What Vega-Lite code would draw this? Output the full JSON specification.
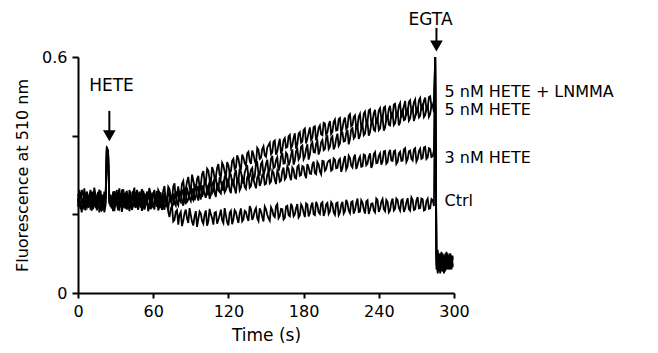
{
  "$schema": "https://vega.github.io/schema/vega-lite/v6.json",
  "autosize": {"type": "none"},
  "padding": {"left": 78, "top": 57, "right": 204, "bottom": 60},
  "width": 376,
  "height": 236,
  "background": "white",
  "config": {
    "view": {"stroke": null},
    "font": "DejaVu Sans",
    "axis": {
      "grid": false,
      "domainColor": "black",
      "domainWidth": 2,
      "tickColor": "black",
      "tickWidth": 2,
      "labelColor": "black",
      "titleColor": "black",
      "titleFontWeight": "normal",
      "labelFont": "DejaVu Sans",
      "titleFont": "DejaVu Sans"
    }
  },
  "layer": [
    {
      "data": {
        "values": [
          {"t":0,"a":0.242,"b":0.220,"c":0.252,"d":0.230},
          {"t":2,"a":0.214,"b":0.247,"c":0.222,"d":0.256},
          {"t":4,"a":0.254,"b":0.230,"c":0.238,"d":0.218},
          {"t":6,"a":0.224,"b":0.255,"c":0.210,"d":0.243},
          {"t":8,"a":0.247,"b":0.217,"c":0.246,"d":0.226},
          {"t":10,"a":0.212,"b":0.243,"c":0.226,"d":0.262},
          {"t":12,"a":0.237,"b":0.213,"c":0.257,"d":0.234},
          {"t":14,"a":0.220,"b":0.251,"c":0.217,"d":0.248},
          {"t":16,"a":0.257,"b":0.227,"c":0.235,"d":0.220},
          {"t":18,"a":0.216,"b":0.260,"c":0.212,"d":0.253},
          {"t":20,"a":0.240,"b":0.223,"c":0.250,"d":0.213},
          {"t":22,"a":0.228,"b":0.239,"c":0.224,"d":0.246},
          {"t":23,"a":0.370,"b":0.368,"c":0.372,"d":0.365},
          {"t":24,"a":0.360,"b":0.362,"c":0.355,"d":0.358},
          {"t":25,"a":0.230,"b":0.238,"c":0.226,"d":0.244},
          {"t":26,"a":0.250,"b":0.219,"c":0.242,"d":0.224},
          {"t":28,"a":0.218,"b":0.253,"c":0.208,"d":0.258},
          {"t":30,"a":0.238,"b":0.231,"c":0.248,"d":0.232},
          {"t":32,"a":0.210,"b":0.257,"c":0.220,"d":0.250},
          {"t":34,"a":0.244,"b":0.221,"c":0.254,"d":0.218},
          {"t":36,"a":0.226,"b":0.245,"c":0.228,"d":0.264},
          {"t":38,"a":0.252,"b":0.215,"c":0.240,"d":0.228},
          {"t":40,"a":0.214,"b":0.241,"c":0.214,"d":0.242},
          {"t":42,"a":0.246,"b":0.225,"c":0.258,"d":0.222},
          {"t":44,"a":0.222,"b":0.259,"c":0.224,"d":0.254},
          {"t":46,"a":0.256,"b":0.229,"c":0.244,"d":0.216},
          {"t":48,"a":0.212,"b":0.249,"c":0.212,"d":0.246},
          {"t":50,"a":0.236,"b":0.217,"c":0.250,"d":0.232},
          {"t":52,"a":0.218,"b":0.255,"c":0.218,"d":0.260},
          {"t":54,"a":0.248,"b":0.223,"c":0.238,"d":0.224},
          {"t":56,"a":0.226,"b":0.243,"c":0.208,"d":0.250},
          {"t":58,"a":0.254,"b":0.213,"c":0.252,"d":0.220},
          {"t":60,"a":0.216,"b":0.251,"c":0.226,"d":0.256},
          {"t":62,"a":0.242,"b":0.231,"c":0.246,"d":0.230},
          {"t":64,"a":0.210,"b":0.259,"c":0.216,"d":0.262},
          {"t":66,"a":0.240,"b":0.221,"c":0.256,"d":0.231},
          {"t":68,"a":0.220,"b":0.245,"c":0.222,"d":0.260},
          {"t":70,"a":0.239,"b":0.219,"c":0.240,"d":0.231},
          {"t":72,"a":0.207,"b":0.256,"c":0.214,"d":0.270},
          {"t":74,"a":0.215,"b":0.230,"c":0.248,"d":0.245},
          {"t":76,"a":0.182,"b":0.253,"c":0.226,"d":0.270},
          {"t":78,"a":0.207,"b":0.222,"c":0.256,"d":0.240},
          {"t":80,"a":0.174,"b":0.250,"c":0.223,"d":0.271},
          {"t":82,"a":0.206,"b":0.231,"c":0.251,"d":0.250},
          {"t":84,"a":0.184,"b":0.262,"c":0.222,"d":0.285},
          {"t":86,"a":0.212,"b":0.226,"c":0.250,"d":0.264},
          {"t":88,"a":0.178,"b":0.253,"c":0.239,"d":0.295},
          {"t":90,"a":0.198,"b":0.234,"c":0.269,"d":0.260},
          {"t":92,"a":0.172,"b":0.266,"c":0.236,"d":0.286},
          {"t":94,"a":0.208,"b":0.245,"c":0.264,"d":0.261},
          {"t":96,"a":0.188,"b":0.272,"c":0.235,"d":0.298},
          {"t":98,"a":0.202,"b":0.238,"c":0.275,"d":0.277},
          {"t":100,"a":0.176,"b":0.265,"c":0.256,"d":0.310},
          {"t":102,"a":0.210,"b":0.242,"c":0.278,"d":0.281},
          {"t":104,"a":0.182,"b":0.274,"c":0.248,"d":0.311},
          {"t":106,"a":0.200,"b":0.251,"c":0.277,"d":0.280},
          {"t":108,"a":0.174,"b":0.283,"c":0.261,"d":0.311},
          {"t":110,"a":0.206,"b":0.244,"c":0.293,"d":0.296},
          {"t":112,"a":0.186,"b":0.271,"c":0.261,"d":0.328},
          {"t":114,"a":0.212,"b":0.253,"c":0.284,"d":0.295},
          {"t":116,"a":0.178,"b":0.284,"c":0.260,"d":0.324},
          {"t":118,"a":0.198,"b":0.262,"c":0.300,"d":0.294},
          {"t":120,"a":0.172,"b":0.283,"c":0.276,"d":0.325},
          {"t":122,"a":0.209,"b":0.254,"c":0.301,"d":0.310},
          {"t":124,"a":0.187,"b":0.282,"c":0.273,"d":0.341},
          {"t":126,"a":0.206,"b":0.253,"c":0.313,"d":0.319},
          {"t":128,"a":0.178,"b":0.293,"c":0.287,"d":0.342},
          {"t":130,"a":0.215,"b":0.268,"c":0.308,"d":0.313},
          {"t":132,"a":0.187,"b":0.289,"c":0.278,"d":0.344},
          {"t":134,"a":0.206,"b":0.265,"c":0.316,"d":0.324},
          {"t":136,"a":0.183,"b":0.300,"c":0.292,"d":0.359},
          {"t":138,"a":0.213,"b":0.272,"c":0.313,"d":0.328},
          {"t":140,"a":0.194,"b":0.289,"c":0.289,"d":0.352},
          {"t":142,"a":0.216,"b":0.266,"c":0.329,"d":0.327},
          {"t":144,"a":0.183,"b":0.302,"c":0.303,"d":0.364},
          {"t":146,"a":0.207,"b":0.281,"c":0.328,"d":0.344},
          {"t":148,"a":0.182,"b":0.303,"c":0.300,"d":0.373},
          {"t":150,"a":0.213,"b":0.278,"c":0.328,"d":0.346},
          {"t":152,"a":0.190,"b":0.309,"c":0.306,"d":0.376},
          {"t":154,"a":0.218,"b":0.283,"c":0.341,"d":0.353},
          {"t":156,"a":0.197,"b":0.306,"c":0.317,"d":0.385},
          {"t":158,"a":0.221,"b":0.277,"c":0.338,"d":0.352},
          {"t":160,"a":0.190,"b":0.304,"c":0.310,"d":0.378},
          {"t":162,"a":0.214,"b":0.286,"c":0.348,"d":0.354},
          {"t":164,"a":0.187,"b":0.319,"c":0.329,"d":0.389},
          {"t":166,"a":0.220,"b":0.294,"c":0.357,"d":0.369},
          {"t":168,"a":0.198,"b":0.316,"c":0.324,"d":0.398},
          {"t":170,"a":0.227,"b":0.287,"c":0.350,"d":0.368},
          {"t":172,"a":0.195,"b":0.314,"c":0.326,"d":0.394},
          {"t":174,"a":0.216,"b":0.291,"c":0.361,"d":0.367},
          {"t":176,"a":0.192,"b":0.325,"c":0.339,"d":0.405},
          {"t":178,"a":0.225,"b":0.300,"c":0.372,"d":0.382},
          {"t":180,"a":0.204,"b":0.321,"c":0.340,"d":0.414},
          {"t":182,"a":0.228,"b":0.292,"c":0.366,"d":0.380},
          {"t":184,"a":0.195,"b":0.320,"c":0.339,"d":0.407},
          {"t":186,"a":0.221,"b":0.303,"c":0.377,"d":0.389},
          {"t":188,"a":0.200,"b":0.334,"c":0.358,"d":0.422},
          {"t":190,"a":0.232,"b":0.302,"c":0.380,"d":0.388},
          {"t":192,"a":0.205,"b":0.327,"c":0.352,"d":0.420},
          {"t":194,"a":0.228,"b":0.302,"c":0.383,"d":0.403},
          {"t":196,"a":0.196,"b":0.335,"c":0.363,"d":0.433},
          {"t":198,"a":0.225,"b":0.315,"c":0.394,"d":0.402},
          {"t":200,"a":0.201,"b":0.336,"c":0.366,"d":0.428},
          {"t":202,"a":0.231,"b":0.311,"c":0.394,"d":0.404},
          {"t":204,"a":0.205,"b":0.342,"c":0.365,"d":0.435},
          {"t":206,"a":0.228,"b":0.317,"c":0.393,"d":0.413},
          {"t":208,"a":0.198,"b":0.337,"c":0.374,"d":0.442},
          {"t":210,"a":0.224,"b":0.308,"c":0.410,"d":0.408},
          {"t":212,"a":0.202,"b":0.337,"c":0.385,"d":0.438},
          {"t":214,"a":0.237,"b":0.314,"c":0.407,"d":0.417},
          {"t":216,"a":0.209,"b":0.349,"c":0.378,"d":0.451},
          {"t":218,"a":0.231,"b":0.324,"c":0.416,"d":0.424},
          {"t":220,"a":0.202,"b":0.344,"c":0.393,"d":0.448},
          {"t":222,"a":0.228,"b":0.315,"c":0.423,"d":0.420},
          {"t":224,"a":0.206,"b":0.340,"c":0.392,"d":0.449},
          {"t":226,"a":0.236,"b":0.321,"c":0.418,"d":0.419},
          {"t":228,"a":0.213,"b":0.352,"c":0.401,"d":0.456},
          {"t":230,"a":0.233,"b":0.325,"c":0.429,"d":0.432},
          {"t":232,"a":0.201,"b":0.347,"c":0.400,"d":0.464},
          {"t":234,"a":0.227,"b":0.318,"c":0.430,"d":0.431},
          {"t":236,"a":0.210,"b":0.353,"c":0.415,"d":0.457},
          {"t":238,"a":0.240,"b":0.330,"c":0.441,"d":0.430},
          {"t":240,"a":0.206,"b":0.349,"c":0.414,"d":0.464},
          {"t":242,"a":0.232,"b":0.326,"c":0.442,"d":0.444},
          {"t":244,"a":0.213,"b":0.360,"c":0.413,"d":0.471},
          {"t":246,"a":0.237,"b":0.329,"c":0.443,"d":0.439},
          {"t":248,"a":0.205,"b":0.356,"c":0.428,"d":0.468},
          {"t":250,"a":0.231,"b":0.337,"c":0.458,"d":0.446},
          {"t":252,"a":0.210,"b":0.360,"c":0.427,"d":0.479},
          {"t":254,"a":0.240,"b":0.328,"c":0.453,"d":0.451},
          {"t":256,"a":0.216,"b":0.355,"c":0.426,"d":0.476},
          {"t":258,"a":0.236,"b":0.336,"c":0.460,"d":0.446},
          {"t":260,"a":0.206,"b":0.365,"c":0.439,"d":0.475},
          {"t":262,"a":0.230,"b":0.333,"c":0.465,"d":0.453},
          {"t":264,"a":0.213,"b":0.360,"c":0.438,"d":0.486},
          {"t":266,"a":0.243,"b":0.341,"c":0.464,"d":0.462},
          {"t":268,"a":0.211,"b":0.365,"c":0.437,"d":0.485},
          {"t":270,"a":0.235,"b":0.334,"c":0.465,"d":0.457},
          {"t":272,"a":0.215,"b":0.361,"c":0.446,"d":0.490},
          {"t":274,"a":0.240,"b":0.341,"c":0.474,"d":0.466},
          {"t":276,"a":0.210,"b":0.370,"c":0.447,"d":0.489},
          {"t":278,"a":0.234,"b":0.341,"c":0.469,"d":0.465},
          {"t":280,"a":0.214,"b":0.368,"c":0.448,"d":0.498},
          {"t":282,"a":0.239,"b":0.346,"c":0.476,"d":0.474},
          {"t":284,"a":0.221,"b":0.363,"c":0.459,"d":0.489},
          {"t":285,"a":0.6,"b":0.6,"c":0.6,"d":0.6},
          {"t":286,"a":0.09,"b":0.06,"c":0.1,"d":0.07},
          {"t":287,"a":0.05,"b":0.11,"c":0.06,"d":0.1},
          {"t":288,"a":0.1,"b":0.055,"c":0.09,"d":0.06},
          {"t":289,"a":0.06,"b":0.1,"c":0.05,"d":0.095},
          {"t":290,"a":0.105,"b":0.07,"c":0.1,"d":0.055},
          {"t":291,"a":0.055,"b":0.095,"c":0.06,"d":0.1},
          {"t":292,"a":0.09,"b":0.05,"c":0.095,"d":0.065},
          {"t":293,"a":0.06,"b":0.1,"c":0.055,"d":0.09},
          {"t":294,"a":0.1,"b":0.065,"c":0.105,"d":0.06},
          {"t":295,"a":0.06,"b":0.1,"c":0.065,"d":0.095},
          {"t":296,"a":0.095,"b":0.06,"c":0.09,"d":0.07},
          {"t":297,"a":0.065,"b":0.1,"c":0.06,"d":0.1},
          {"t":298,"a":0.09,"b":0.07,"c":0.095,"d":0.06},
          {"t":299,"a":0.07,"b":0.095,"c":0.065,"d":0.09},
          {"t":1,"a":0.229,"b":0.262,"c":0.236,"d":0.245},
          {"t":3,"a":0.262,"b":0.238,"c":0.205,"d":0.236},
          {"t":5,"a":0.236,"b":0.212,"c":0.241,"d":0.266},
          {"t":7,"a":0.218,"b":0.240,"c":0.258,"d":0.222},
          {"t":9,"a":0.233,"b":0.226,"c":0.229,"d":0.247},
          {"t":11,"a":0.258,"b":0.249,"c":0.209,"d":0.226},
          {"t":13,"a":0.225,"b":0.232,"c":0.244,"d":0.268},
          {"t":15,"a":0.241,"b":0.210,"c":0.225,"d":0.236},
          {"t":17,"a":0.205,"b":0.246,"c":0.263,"d":0.241},
          {"t":19,"a":0.236,"b":0.222,"c":0.231,"d":0.210},
          {"t":21,"a":0.252,"b":0.248,"c":0.205,"d":0.258},
          {"t":27,"a":0.228,"b":0.241,"c":0.236,"d":0.215},
          {"t":29,"a":0.259,"b":0.208,"c":0.226,"d":0.247},
          {"t":31,"a":0.225,"b":0.244,"c":0.262,"d":0.238},
          {"t":33,"a":0.237,"b":0.230,"c":0.214,"d":0.266},
          {"t":35,"a":0.206,"b":0.263,"c":0.239,"d":0.230},
          {"t":37,"a":0.245,"b":0.228,"c":0.216,"d":0.249},
          {"t":39,"a":0.230,"b":0.250,"c":0.260,"d":0.212},
          {"t":41,"a":0.262,"b":0.208,"c":0.232,"d":0.251},
          {"t":43,"a":0.220,"b":0.240,"c":0.211,"d":0.235},
          {"t":45,"a":0.239,"b":0.223,"c":0.249,"d":0.268},
          {"t":47,"a":0.231,"b":0.262,"c":0.228,"d":0.226},
          {"t":49,"a":0.258,"b":0.232,"c":0.236,"d":0.240},
          {"t":51,"a":0.209,"b":0.246,"c":0.264,"d":0.217},
          {"t":53,"a":0.241,"b":0.212,"c":0.226,"d":0.248},
          {"t":55,"a":0.229,"b":0.258,"c":0.245,"d":0.235},
          {"t":57,"a":0.214,"b":0.237,"c":0.222,"d":0.267},
          {"t":59,"a":0.247,"b":0.226,"c":0.238,"d":0.232},
          {"t":61,"a":0.226,"b":0.262,"c":0.212,"d":0.246},
          {"t":63,"a":0.259,"b":0.219,"c":0.247,"d":0.224},
          {"t":65,"a":0.219,"b":0.248,"c":0.240,"d":0.255},
          {"t":67,"a":0.245,"b":0.227,"c":0.211,"d":0.236},
          {"t":69,"a":0.212,"b":0.253,"c":0.247,"d":0.272},
          {"t":71,"a":0.229,"b":0.230,"c":0.221,"d":0.239},
          {"t":73,"a":0.193,"b":0.249,"c":0.240,"d":0.264},
          {"t":75,"a":0.221,"b":0.241,"c":0.218,"d":0.238},
          {"t":77,"a":0.186,"b":0.228,"c":0.245,"d":0.279},
          {"t":79,"a":0.211,"b":0.258,"c":0.229,"d":0.252},
          {"t":81,"a":0.199,"b":0.236,"c":0.260,"d":0.246},
          {"t":83,"a":0.170,"b":0.257,"c":0.234,"d":0.278},
          {"t":85,"a":0.203,"b":0.233,"c":0.266,"d":0.255},
          {"t":87,"a":0.189,"b":0.268,"c":0.230,"d":0.283},
          {"t":89,"a":0.216,"b":0.241,"c":0.252,"d":0.268},
          {"t":91,"a":0.181,"b":0.257,"c":0.241,"d":0.301},
          {"t":93,"a":0.195,"b":0.236,"c":0.277,"d":0.270},
          {"t":95,"a":0.168,"b":0.262,"c":0.248,"d":0.290},
          {"t":97,"a":0.207,"b":0.247,"c":0.266,"d":0.267},
          {"t":99,"a":0.183,"b":0.273,"c":0.244,"d":0.302},
          {"t":101,"a":0.200,"b":0.251,"c":0.287,"d":0.284},
          {"t":103,"a":0.171,"b":0.268,"c":0.257,"d":0.316},
          {"t":105,"a":0.214,"b":0.239,"c":0.283,"d":0.289},
          {"t":107,"a":0.190,"b":0.277,"c":0.254,"d":0.320},
          {"t":109,"a":0.204,"b":0.255,"c":0.290,"d":0.291},
          {"t":111,"a":0.176,"b":0.281,"c":0.265,"d":0.318},
          {"t":113,"a":0.198,"b":0.258,"c":0.295,"d":0.300},
          {"t":115,"a":0.185,"b":0.279,"c":0.268,"d":0.331},
          {"t":117,"a":0.216,"b":0.256,"c":0.296,"d":0.308},
          {"t":119,"a":0.180,"b":0.288,"c":0.270,"d":0.333},
          {"t":121,"a":0.204,"b":0.262,"c":0.306,"d":0.305},
          {"t":123,"a":0.175,"b":0.290,"c":0.279,"d":0.336},
          {"t":125,"a":0.211,"b":0.266,"c":0.302,"d":0.315},
          {"t":127,"a":0.190,"b":0.287,"c":0.281,"d":0.350},
          {"t":129,"a":0.203,"b":0.261,"c":0.316,"d":0.322},
          {"t":131,"a":0.182,"b":0.296,"c":0.290,"d":0.352},
          {"t":133,"a":0.209,"b":0.270,"c":0.306,"d":0.330},
          {"t":135,"a":0.192,"b":0.294,"c":0.325,"d":0.355},
          {"t":137,"a":0.221,"b":0.268,"c":0.296,"d":0.336},
          {"t":139,"a":0.186,"b":0.297,"c":0.318,"d":0.362},
          {"t":141,"a":0.209,"b":0.277,"c":0.296,"d":0.336},
          {"t":143,"a":0.190,"b":0.293,"c":0.332,"d":0.369},
          {"t":145,"a":0.215,"b":0.272,"c":0.301,"d":0.341},
          {"t":147,"a":0.194,"b":0.300,"c":0.334,"d":0.366},
          {"t":149,"a":0.220,"b":0.276,"c":0.311,"d":0.350},
          {"t":151,"a":0.199,"b":0.301,"c":0.339,"d":0.370},
          {"t":153,"a":0.184,"b":0.279,"c":0.313,"d":0.382},
          {"t":155,"a":0.211,"b":0.311,"c":0.349,"d":0.357},
          {"t":157,"a":0.193,"b":0.288,"c":0.320,"d":0.388},
          {"t":159,"a":0.226,"b":0.310,"c":0.345,"d":0.360},
          {"t":161,"a":0.196,"b":0.283,"c":0.322,"d":0.392},
          {"t":163,"a":0.213,"b":0.310,"c":0.356,"d":0.364},
          {"t":165,"a":0.191,"b":0.289,"c":0.330,"d":0.394},
          {"t":167,"a":0.222,"b":0.322,"c":0.352,"d":0.371},
          {"t":169,"a":0.195,"b":0.296,"c":0.333,"d":0.402},
          {"t":171,"a":0.219,"b":0.319,"c":0.365,"d":0.375},
          {"t":173,"a":0.200,"b":0.293,"c":0.336,"d":0.406},
          {"t":175,"a":0.226,"b":0.321,"c":0.366,"d":0.378},
          {"t":177,"a":0.197,"b":0.298,"c":0.345,"d":0.409},
          {"t":179,"a":0.219,"b":0.323,"c":0.375,"d":0.385},
          {"t":181,"a":0.193,"b":0.301,"c":0.347,"d":0.418},
          {"t":183,"a":0.225,"b":0.328,"c":0.378,"d":0.392},
          {"t":185,"a":0.203,"b":0.304,"c":0.352,"d":0.421},
          {"t":187,"a":0.230,"b":0.326,"c":0.383,"d":0.395},
          {"t":189,"a":0.198,"b":0.305,"c":0.357,"d":0.424},
          {"t":191,"a":0.224,"b":0.333,"c":0.386,"d":0.399},
          {"t":193,"a":0.201,"b":0.309,"c":0.362,"d":0.426},
          {"t":195,"a":0.231,"b":0.336,"c":0.389,"d":0.401},
          {"t":197,"a":0.206,"b":0.311,"c":0.366,"d":0.431},
          {"t":199,"a":0.229,"b":0.331,"c":0.398,"d":0.408},
          {"t":201,"a":0.207,"b":0.338,"c":0.372,"d":0.437},
          {"t":203,"a":0.226,"b":0.314,"c":0.398,"d":0.410},
          {"t":205,"a":0.199,"b":0.339,"c":0.373,"d":0.441},
          {"t":207,"a":0.230,"b":0.318,"c":0.405,"d":0.414},
          {"t":209,"a":0.205,"b":0.341,"c":0.380,"d":0.445},
          {"t":211,"a":0.232,"b":0.318,"c":0.408,"d":0.418},
          {"t":213,"a":0.208,"b":0.348,"c":0.386,"d":0.446},
          {"t":215,"a":0.229,"b":0.321,"c":0.415,"d":0.421},
          {"t":217,"a":0.203,"b":0.343,"c":0.391,"d":0.455},
          {"t":219,"a":0.233,"b":0.319,"c":0.419,"d":0.427},
          {"t":221,"a":0.211,"b":0.352,"c":0.397,"d":0.452},
          {"t":223,"a":0.240,"b":0.325,"c":0.427,"d":0.425},
          {"t":225,"a":0.207,"b":0.347,"c":0.400,"d":0.456},
          {"t":227,"a":0.230,"b":0.322,"c":0.428,"d":0.428},
          {"t":229,"a":0.202,"b":0.350,"c":0.405,"d":0.461},
          {"t":231,"a":0.236,"b":0.329,"c":0.433,"d":0.436},
          {"t":233,"a":0.212,"b":0.355,"c":0.409,"d":0.467},
          {"t":235,"a":0.228,"b":0.326,"c":0.437,"d":0.437},
          {"t":237,"a":0.205,"b":0.358,"c":0.412,"d":0.466},
          {"t":239,"a":0.236,"b":0.331,"c":0.445,"d":0.441},
          {"t":241,"a":0.214,"b":0.355,"c":0.418,"d":0.470},
          {"t":243,"a":0.239,"b":0.334,"c":0.447,"d":0.445},
          {"t":245,"a":0.208,"b":0.361,"c":0.421,"d":0.474},
          {"t":247,"a":0.232,"b":0.333,"c":0.452,"d":0.446},
          {"t":249,"a":0.210,"b":0.364,"c":0.426,"d":0.476},
          {"t":251,"a":0.240,"b":0.336,"c":0.455,"d":0.450},
          {"t":253,"a":0.214,"b":0.362,"c":0.432,"d":0.481},
          {"t":255,"a":0.236,"b":0.333,"c":0.461,"d":0.455},
          {"t":257,"a":0.209,"b":0.359,"c":0.434,"d":0.483},
          {"t":259,"a":0.238,"b":0.337,"c":0.466,"d":0.454},
          {"t":261,"a":0.214,"b":0.368,"c":0.441,"d":0.488},
          {"t":263,"a":0.241,"b":0.340,"c":0.469,"d":0.458},
          {"t":265,"a":0.209,"b":0.362,"c":0.444,"d":0.490},
          {"t":267,"a":0.237,"b":0.337,"c":0.471,"d":0.463},
          {"t":269,"a":0.213,"b":0.368,"c":0.448,"d":0.492},
          {"t":271,"a":0.244,"b":0.341,"c":0.473,"d":0.464},
          {"t":273,"a":0.216,"b":0.367,"c":0.450,"d":0.496},
          {"t":275,"a":0.238,"b":0.343,"c":0.479,"d":0.469},
          {"t":277,"a":0.212,"b":0.372,"c":0.452,"d":0.497},
          {"t":279,"a":0.240,"b":0.345,"c":0.477,"d":0.471},
          {"t":281,"a":0.215,"b":0.366,"c":0.455,"d":0.500},
          {"t":283,"a":0.236,"b":0.348,"c":0.478,"d":0.476}
        ]
      },
      "transform": [{"fold": ["a", "b", "c", "d"], "as": ["s", "v"]}],
      "mark": {"type": "line", "color": "black", "strokeWidth": 1.8},
      "encoding": {
        "x": {
          "field": "t", "type": "quantitative",
          "scale": {"domain": [0, 300], "nice": false, "zero": false},
          "axis": {
            "title": "Time (s)",
            "values": [0, 60, 120, 180, 240, 300],
            "labelFontSize": 16,
            "titleFontSize": 17,
            "tickSize": 5,
            "labelPadding": 5,
            "titlePadding": 8,
            "labelFlush": false
          }
        },
        "y": {
          "field": "v", "type": "quantitative",
          "scale": {"domain": [0, 0.6], "nice": false, "zero": false},
          "axis": {
            "title": "Fluorescence at 510 nm",
            "values": [0, 0.2, 0.4, 0.6],
            "labelExpr": "(datum.value < 0.01 || datum.value > 0.55) ? format(datum.value, '~g') : ''",
            "labelFontSize": 16,
            "titleFontSize": 16,
            "tickSize": 6,
            "labelPadding": 5,
            "titlePadding": 11
          }
        },
        "detail": {"field": "s"}
      }
    },
    {
      "data": {"values": [{}]},
      "mark": {"type": "rule", "color": "black", "strokeWidth": 2},
      "encoding": {"x": {"datum": 25}, "y": {"datum": 0.463}, "y2": {"datum": 0.41}}
    },
    {
      "data": {"values": [{}]},
      "mark": {"type": "point", "shape": "triangle-down", "filled": true, "size": 160, "color": "black", "opacity": 1},
      "encoding": {"x": {"datum": 25}, "y": {"datum": 0.4}}
    },
    {
      "data": {"values": [{}]},
      "mark": {"type": "rule", "color": "black", "strokeWidth": 2},
      "encoding": {"x": {"datum": 286}, "y": {"datum": 0.674}, "y2": {"datum": 0.64}}
    },
    {
      "data": {"values": [{}]},
      "mark": {"type": "point", "shape": "triangle-down", "filled": true, "size": 160, "color": "black", "opacity": 1},
      "encoding": {"x": {"datum": 286}, "y": {"datum": 0.628}}
    },
    {
      "data": {"values": [{}]},
      "mark": {"type": "text", "text": "HETE", "font": "DejaVu Sans", "fontSize": 17, "align": "center", "baseline": "middle", "color": "black"},
      "encoding": {"x": {"datum": 26.7}, "y": {"datum": 0.526}}
    },
    {
      "data": {"values": [{}]},
      "mark": {"type": "text", "text": "EGTA", "font": "DejaVu Sans", "fontSize": 17, "align": "center", "baseline": "middle", "color": "black"},
      "encoding": {"x": {"datum": 281.3}, "y": {"datum": 0.694}}
    },
    {
      "data": {"values": [{}]},
      "mark": {"type": "text", "text": "5 nM HETE + LNMMA", "font": "DejaVu Sans", "fontSize": 16, "align": "left", "baseline": "middle", "color": "black"},
      "encoding": {"x": {"datum": 292.4}, "y": {"datum": 0.511}}
    },
    {
      "data": {"values": [{}]},
      "mark": {"type": "text", "text": "5 nM HETE", "font": "DejaVu Sans", "fontSize": 16, "align": "left", "baseline": "middle", "color": "black"},
      "encoding": {"x": {"datum": 292.4}, "y": {"datum": 0.465}}
    },
    {
      "data": {"values": [{}]},
      "mark": {"type": "text", "text": "3 nM HETE", "font": "DejaVu Sans", "fontSize": 16, "align": "left", "baseline": "middle", "color": "black"},
      "encoding": {"x": {"datum": 292.4}, "y": {"datum": 0.343}}
    },
    {
      "data": {"values": [{}]},
      "mark": {"type": "text", "text": "Ctrl", "font": "DejaVu Sans", "fontSize": 16, "align": "left", "baseline": "middle", "color": "black"},
      "encoding": {"x": {"datum": 292.4}, "y": {"datum": 0.234}}
    }
  ]
}
